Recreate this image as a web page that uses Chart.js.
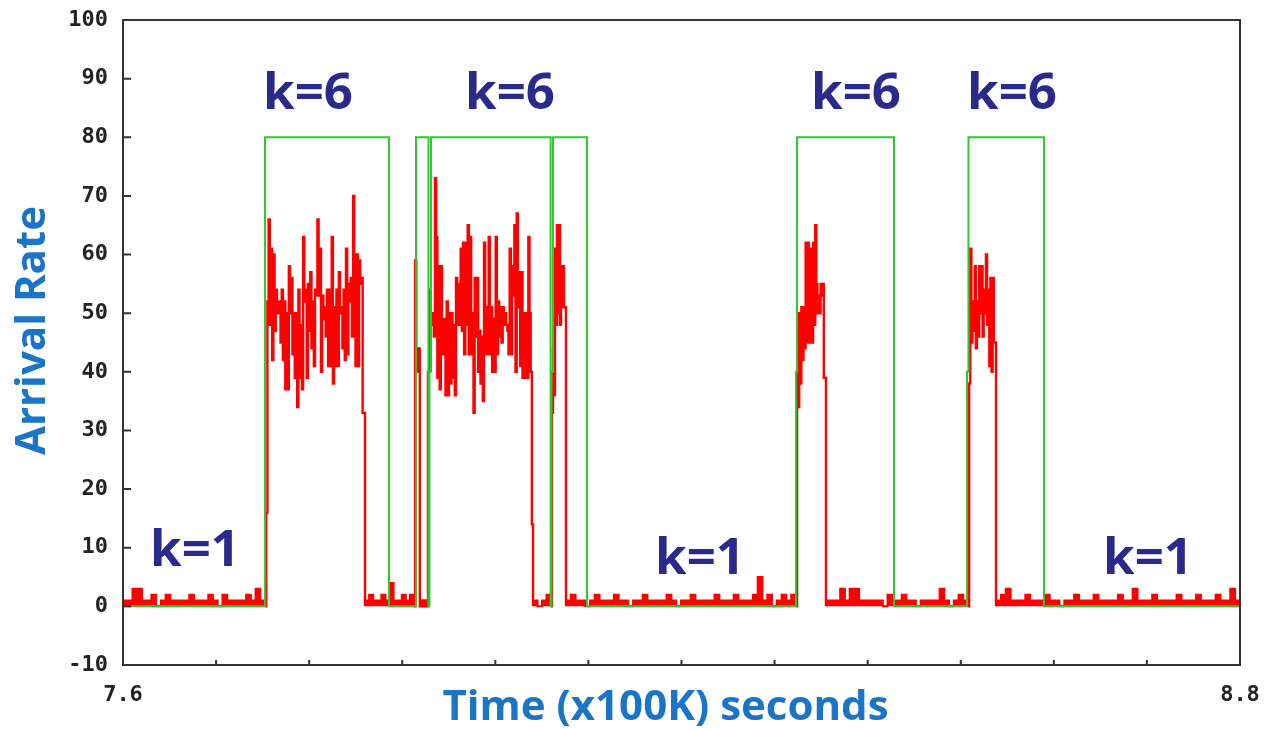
<!DOCTYPE html>
<html>
<head>
<meta charset="utf-8">
<script src="https://cdn.jsdelivr.net/npm/chart.js@4"></script>
<style>
    html, body { margin: 0; padding: 0; background: #fff; }
    #wrap { width: 1270px; height: 729px; }
</style>
</head>
<body>
<div id="wrap"><canvas id="rateChart" width="1270" height="729"></canvas></div>
<script>
// axis ticks
const xTicks = [7.6, 7.7, 7.8, 7.9, 8.0, 8.1, 8.2, 8.3, 8.4, 8.5, 8.6, 8.7, 8.8];
const xTickLabels = ['7.6', '', '', '', '', '', '', '', '', '', '', '', '8.8'];
const yTicks = [-10, 0, 10, 20, 30, 40, 50, 60, 70, 80, 90, 100];

// arrival rate, quiet stretches (k=1) - samples spread evenly over each span
const quiet1 = [1, 1, 3, 3, 1, 1, 2, 0, 1, 2, 1, 1, 1, 1, 2, 1, 1, 1, 2, 1, 0, 2, 1, 1, 1, 1, 2, 1, 3, 1, 1];
const quiet1Span = [7.6, 7.7526];
const quiet2 = [1, 2, 1, 1, 2, 1, 4, 1, 1, 2, 1, 2, 2];
const quiet2Span = [7.8600, 7.9126];
const quiet3 = [1, 0, 1, 2, 1];
const quiet3Span = [8.0405, 8.0598];
const quiet4 = [1, 2, 1, 1, 0, 1, 2, 1, 1, 1, 2, 1, 1, 0, 1, 1, 2, 1, 1, 1, 1, 2, 1, 0, 1, 1, 2, 1, 1, 1, 1, 2, 1, 1, 1, 2, 1, 1, 1, 2, 5, 1, 2, 0, 1, 2, 1, 2, 1];
const quiet4Span = [8.0759, 8.3230];
const quiet5 = [1, 1, 1, 3, 1, 3, 3, 1, 1, 1, 1, 1, 0, 2, 1, 1, 2, 1, 1, 0, 1, 1, 1, 1, 3, 1, 0, 1, 2, 1, 1];
const quiet5Span = [8.3552, 8.5078];
const quiet6 = [1, 2, 3, 1, 1, 1, 2, 1, 1, 1, 2, 1, 1, 0, 1, 1, 2, 1, 1, 1, 2, 1, 1, 1, 1, 2, 1, 1, 3, 1, 1, 1, 2, 1, 1, 1, 1, 2, 1, 1, 1, 2, 1, 1, 1, 2, 1, 1, 3, 1, 2];
const quiet6Span = [8.5379, 8.8];

// arrival rate, bursts (k=6)
const burst1 = [0, 16, 52, 66, 48, 61, 42, 60, 47, 54, 50, 50, 52, 45, 54, 42, 52, 37, 50, 37, 58, 50, 56, 43, 50, 39, 50, 34, 54, 39, 48, 37, 63, 52, 54, 39, 55, 47, 57, 44, 52, 41, 54, 53, 66, 53, 61, 40, 53, 51, 49, 46, 54, 41, 54, 41, 63, 38, 51, 41, 54, 41, 57, 51, 50, 44, 54, 42, 61, 43, 55, 52, 56, 46, 70, 54, 41, 60, 41, 59, 55, 56, 33, 33, 0];
const burst1Span = [7.7526, 7.8600];
const burst2 = [0, 59, 40, 44, 44, 0, 1, 0, 1, 0, 1, 0, 40, 54, 50, 48, 50, 46, 73, 63, 39, 58, 37, 58, 43, 49, 48, 36, 52, 36, 50, 38, 50, 39, 48, 36, 56, 48, 55, 48, 61, 47, 62, 43, 62, 48, 65, 43, 63, 43, 50, 33, 56, 46, 56, 40, 47, 38, 46, 35, 62, 43, 51, 43, 63, 43, 51, 40, 49, 40, 63, 43, 52, 46, 51, 45, 51, 48, 50, 48, 47, 43, 61, 43, 58, 53, 65, 40, 67, 51, 57, 41, 57, 39, 50, 39, 50, 39, 63, 50, 40, 14, 0];
const burst2Span = [7.9126, 8.0405];
const burst3 = [0, 33, 44, 36, 61, 48, 65, 50, 65, 48, 58, 51, 58, 51, 51, 0];
const burst3Span = [8.0598, 8.0759];
const burst4 = [0, 40, 34, 50, 38, 51, 42, 51, 44, 62, 45, 62, 45, 61, 46, 45, 62, 48, 65, 55, 50, 53, 50, 55, 53, 55, 39, 39, 0];
const burst4Span = [8.3230, 8.3552];
const burst5 = [0, 38, 61, 45, 52, 47, 58, 44, 52, 46, 58, 50, 58, 46, 54, 50, 60, 48, 54, 41, 56, 40, 56, 45, 45, 0];
const burst5Span = [8.5078, 8.5379];

// green k indicator (80 = k=6, 0 = k=1)
const kTimes = [7.6, 7.7526, 7.8858, 7.9148, 7.9282, 7.9292, 7.9309, 8.0594, 8.0603, 8.0620, 8.0985, 8.3230, 8.3241, 8.4283, 8.5067, 8.5083, 8.5894, 8.8];
const kLevels = [0, 80, 0, 80, 0, 40, 80, 0, 40, 80, 0, 40, 80, 0, 40, 80, 0, 0];

// labels on the plot (data units)
const kText = ['k=6', 'k=6', 'k=6', 'k=6', 'k=1', 'k=1', 'k=1'];
const kTextX = [7.7988, 8.0158, 8.3875, 8.5551, 7.6774, 8.2199, 8.7012];
const kTextY = [87.3, 87.3, 87.3, 87.3, 9.4, 8.0, 8.0];

const xTitle = 'Time (x100K) seconds';
const yTitle = 'Arrival Rate';

function spread(values, span) {
    const step = (span[1] - span[0]) / (values.length - 1);
    return values.map((v, i) => ({ x: span[0] + i * step, y: v }));
}

function joinSegments(list) {
    const out = [];
    list.forEach(([vals, span], i) => {
        if (i > 0) out.push({ x: span[0], y: null });
        out.push(...spread(vals, span));
    });
    return out;
}

const quietData = joinSegments([
    [quiet1, quiet1Span], [quiet2, quiet2Span], [quiet3, quiet3Span],
    [quiet4, quiet4Span], [quiet5, quiet5Span], [quiet6, quiet6Span]
]);
const burstData = joinSegments([
    [burst1, burst1Span], [burst2, burst2Span], [burst3, burst3Span],
    [burst4, burst4Span], [burst5, burst5Span]
]);
const kData = kTimes.map((t, i) => ({ x: t, y: kLevels[i] }));

// frame box + inward tick marks
const frameTicks = {
    id: 'frameTicks',
    afterDraw(chart) {
        const { ctx, chartArea: a, scales: { x, y } } = chart;
        ctx.save();
        ctx.strokeStyle = '#333';
        ctx.lineWidth = 2;
        ctx.strokeRect(a.left, a.top, a.right - a.left, a.bottom - a.top);
        ctx.beginPath();
        y.ticks.forEach(t => {
            const py = y.getPixelForValue(t.value);
            ctx.moveTo(a.left, py);
            ctx.lineTo(a.left + 8, py);
        });
        x.ticks.forEach(t => {
            const px = x.getPixelForValue(t.value);
            ctx.moveTo(px, a.bottom);
            ctx.lineTo(px, a.bottom - 5);
        });
        ctx.stroke();
        ctx.restore();
    }
};

// k=6 / k=1 text on the plot, axis titles
const textLayer = {
    id: 'textLayer',
    afterDatasetsDraw(chart) {
        const { ctx, chartArea: a, scales: { x, y } } = chart;
        ctx.save();
        ctx.fillStyle = '#2a2a8c';
        ctx.font = 'bold 51px "Open Sans"';
        ctx.textAlign = 'center';
        ctx.textBaseline = 'middle';
        kText.forEach((t, i) => {
            ctx.fillText(t, x.getPixelForValue(kTextX[i]), y.getPixelForValue(kTextY[i]));
        });

        ctx.fillStyle = '#1a74c8';
        ctx.font = 'bold 42px "Open Sans"';
        ctx.fillText(xTitle, (a.left + a.right) / 2 - 16, a.bottom + 43);
        ctx.translate(33, (a.top + a.bottom) / 2 - 12);
        ctx.rotate(-Math.PI / 2);
        ctx.fillText(yTitle, 0, 0);
        ctx.restore();
    }
};

const tickFont = { family: 'DejaVu Sans Mono', weight: 'bold', size: 22 };

const ctx = document.getElementById('rateChart').getContext('2d');
window.myChart = new Chart(ctx, {
    type: 'line',
    data: {
        datasets: [
            {
                label: 'k',
                data: kData,
                borderColor: '#2cc82c',
                borderWidth: 2,
                stepped: 'before',
                pointRadius: 0,
                fill: false,
                order: 0
            },
            {
                label: 'Arrival rate (bursts)',
                data: burstData,
                borderColor: '#ff0000',
                borderWidth: 2.4,
                stepped: 'before',
                pointRadius: 0,
                spanGaps: false,
                fill: false,
                order: 1
            },
            {
                label: 'Arrival rate (quiet)',
                data: quietData,
                borderColor: '#ff0000',
                backgroundColor: '#ff0000',
                borderWidth: 2,
                stepped: 'before',
                pointRadius: 0,
                spanGaps: false,
                fill: 'origin',
                order: 2
            }
        ]
    },
    options: {
        responsive: false,
        animation: false,
        events: [],
        layout: { padding: { left: 0, right: 30, top: 20, bottom: 0 } },
        plugins: {
            legend: { display: false },
            tooltip: { enabled: false }
        },
        scales: {
            x: {
                type: 'linear',
                min: 7.6,
                max: 8.8,
                grid: { display: false, drawTicks: false },
                border: { display: false },
                afterBuildTicks: s => { s.ticks = xTicks.map(v => ({ value: v })); },
                afterFit: s => { s.height = 64; s.paddingLeft = 0; s.paddingRight = 0; },
                ticks: {
                    autoSkip: false,
                    maxRotation: 0,
                    padding: 17,
                    color: '#222',
                    font: tickFont,
                    callback: (v, i) => xTickLabels[i]
                }
            },
            y: {
                min: -10,
                max: 100,
                grid: { display: false, drawTicks: false },
                border: { display: false },
                afterBuildTicks: s => { s.ticks = yTicks.map(v => ({ value: v })); },
                afterFit: s => { s.width = 123; s.paddingTop = 0; s.paddingBottom = 0; },
                ticks: {
                    padding: 15,
                    color: '#222',
                    font: tickFont
                }
            }
        }
    },
    plugins: [frameTicks, textLayer]
});
</script>
</body>
</html>
